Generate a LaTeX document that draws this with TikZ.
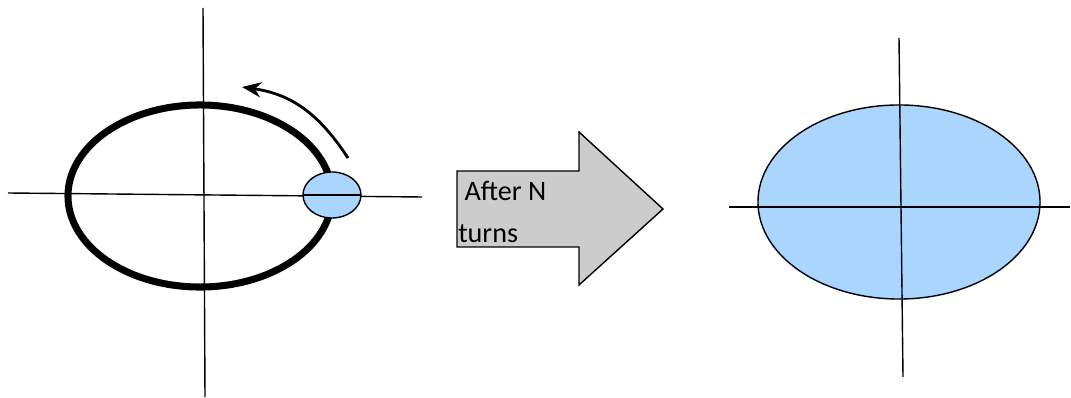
\documentclass[tikz,border=0pt]{standalone}
\usepackage{fontspec}
\setmainfont{Carlito}
\usepackage{tikz}
\usetikzlibrary{arrows.meta,shapes.geometric}
\definecolor{orbblue}{HTML}{A9D5FF}
\definecolor{arrgray}{HTML}{CCCCCC}

\begin{document}
\begin{tikzpicture}[
  x=0.025cm,y=-0.025cm,
  axis/.style={draw=black,line width=1pt},
  orbit/.style={ellipse,draw=black,line width=5pt,inner sep=0pt,outer sep=0pt},
  beam/.style={ellipse,draw=black,fill=orbblue,line width=1pt,inner sep=0pt,outer sep=0pt},
  >={Stealth[length=4.8mm,width=3.8mm]}]
  \useasboundingbox (0,0) rectangle (1071,398);
  % left: orbit with beam
  \coordinate (lvtop) at (203,8); \coordinate (lvbot) at (205,397);
  \coordinate (lhl) at (8,193); \coordinate (lhr) at (422,197);
  \node[orbit,minimum width=6.6cm,minimum height=4.55cm] (ring) at (200,196) {};
  \draw[axis] (lvtop)--(lvbot); \draw[axis] (lhl)--(lhr);
  \node[beam,minimum width=1.45cm,minimum height=1.15cm] (bunch) at (332,195) {};
  \draw[axis] (bunch.west)--(bunch.east);
  \coordinate (turnA) at (348,158); \coordinate (turnB) at (242,87);
  \draw[->,line width=2pt] (turnA) .. controls (318,112) and (290,94) .. (turnB);
  % middle: big arrow
  \draw[fill=arrgray,line width=1pt] (457,171)--(579,171)--(579,132)--(663,209)
    --(579,285)--(579,247)--(457,247)--cycle;
  \node[anchor=north west,align=left,inner sep=0pt,font=\fontsize{20}{30}\selectfont] (lbl) at (458,181) {\ After N\\turns};
  % right: filled beam
  \coordinate (rvtop) at (899,38); \coordinate (rvbot) at (903,377);
  \coordinate (rhl) at (729,207); \coordinate (rhr) at (1070,207);
  \node[beam,minimum width=7.05cm,minimum height=4.85cm] (spread) at (899,202) {};
  \draw[axis] (rvtop)--(rvbot); \draw[axis] (rhl)--(rhr);
\end{tikzpicture}
\end{document}
